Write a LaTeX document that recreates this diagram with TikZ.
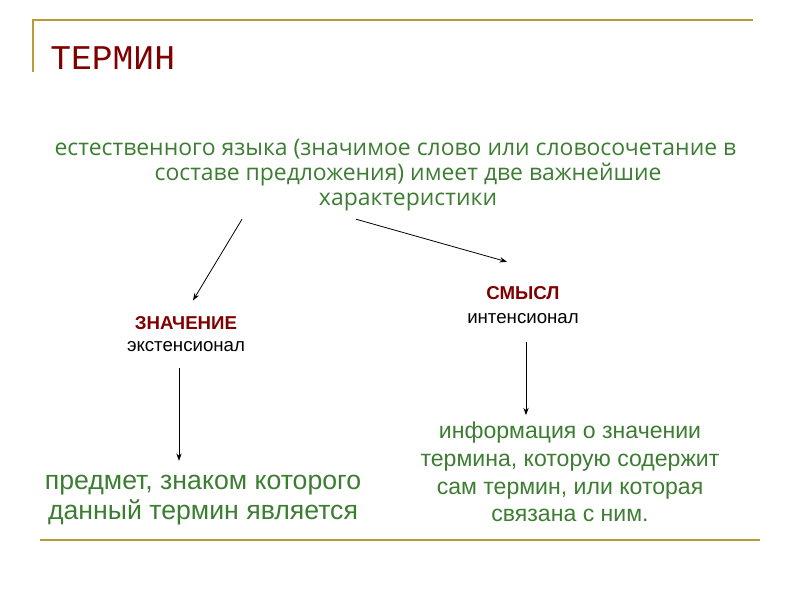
\documentclass[tikz,border=0pt]{standalone}
\usepackage{fontspec}
\usetikzlibrary{arrows.meta}
\setmainfont{Liberation Sans}
\newfontfamily\titlefont{Liberation Mono}
\newfontfamily\handfont{Open Sans}
\definecolor{gold}{RGB}{185,155,55}
\definecolor{maroon}{RGB}{128,0,0}
\definecolor{leaf}{RGB}{60,125,50}
\begin{document}
\begin{tikzpicture}[x=0.75pt,y=-0.75pt,
  rule/.style={draw=gold,line width=2.2pt},
  arrow/.style={->,>={Stealth[length=5.5pt,width=4pt]},line width=0.6pt},
  head/.style={text=maroon,font=\bfseries}]
\useasboundingbox (0,0) rectangle (800,600);
% frame lines
\draw[rule] (33,72) -- (33,20) -- (753,20);
\draw[rule] (40,540) -- (760,540);
% texts
\node(title) [anchor=base west,inner sep=0,text=maroon,font=\titlefont\fontsize{26}{30}\selectfont] at (50,69) {ТЕРМИН};
\node(intro) [align=center,inner sep=0,text=leaf,font=\handfont\fontsize{17.2}{18.75}\selectfont] at (408,175)
  {естественного языка (значимое слово или словосочетание в\hspace*{19pt}\\
   составе предложения) имеет две важнейшие\\
   характеристики};
\node(znach) [align=center,inner sep=2pt,font=\fontsize{14}{16.5}\selectfont] at (186,334)
  {\textcolor{maroon}{\bfseries ЗНАЧЕНИЕ}\\экстенсионал};
\node(smysl) [align=center,inner sep=2pt,font=\fontsize{14}{17.5}\selectfont] at (523,305)
  {\textcolor{maroon}{\bfseries СМЫСЛ}\\интенсионал};
\node(predmet) [align=center,inner sep=2pt,text=leaf,font=\fontsize{20}{23}\selectfont] at (203,500)
  {предмет, знаком которого\\данный термин является};
\node(info) [align=center,inner sep=2pt,text=leaf,font=\fontsize{17.3}{20.75}\selectfont] at (570,472)
  {информация о значении\\термина, которую содержит\\сам термин, или которая\\связана с ним.};
% connectors
\draw[arrow] ([shift={(-166,8)}]intro.south) -- ([shift={(7,-13)}]znach.north);
\draw[arrow] ([shift={(-52,8)}]intro.south) -- ([shift={(-16,-22)}]smysl.north);
\draw[arrow] ([shift={(-7,13)}]znach.south) -- ([shift={(-24,-11)}]predmet.north);
\draw[arrow] ([shift={(3,16)}]smysl.south) -- ([shift={(-44,-4)}]info.north);
\end{tikzpicture}
\end{document}
